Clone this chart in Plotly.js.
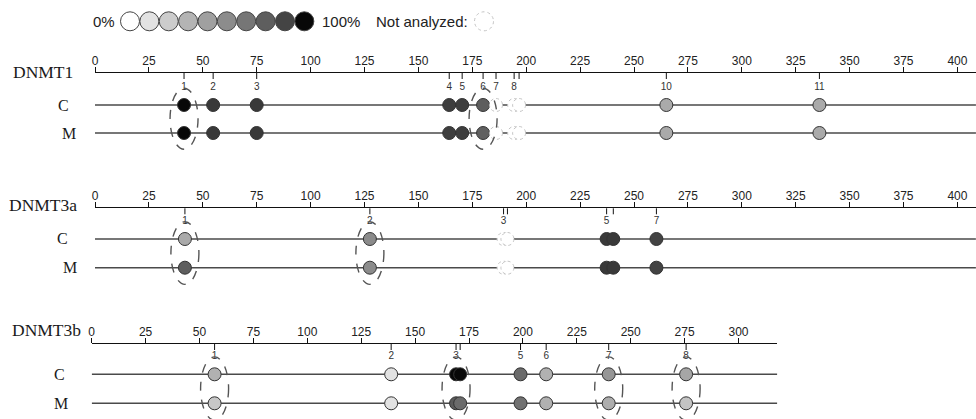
<!DOCTYPE html>
<html><head><meta charset="utf-8">
<script src="https://cdn.plot.ly/plotly-3.0.1.min.js"></script>
<style>html,body{margin:0;padding:0;background:#fff}#chart{width:976px;height:419px}</style>
</head><body><div id="chart"></div>
<script>
// ---------------- DATA ----------------
const genes = ['DNMT1', 'DNMT3a', 'DNMT3b'];
const rowNames = ['C', 'M'];
const regionLength = [408.6, 408.6, 318];

const dnmt1Sites  = [41.3, 54.8, 75, 164.3, 170.3, 180, 186, 194.4, 196.7, 265, 336];
const dnmt1Labels = ['1', '2', '3', '4', '5', '6', '7', '8', '', '10', '11'];
const dnmt1C      = [100, 91, 91, 90, 90, 78, null, null, null, 39, 39];
const dnmt1M      = [100, 91, 91, 90, 90, 77, null, null, null, 39, 39];
const dnmt1Circled = ['1', '6'];

const dnmt3aSites  = [41.7, 127.5, 189.5, 191.3, 237.3, 240.4, 260.4];
const dnmt3aLabels = ['1', '2', '3', '', '5', '', '7'];
const dnmt3aC      = [39, 56, null, null, 91, 91, 89];
const dnmt3aM      = [78, 56, null, null, 91, 91, 89];
const dnmt3aCircled = ['1', '2'];

const dnmt3bSites  = [57, 138.9, 169, 170.9, 198.9, 210.8, 239.8, 275.7];
const dnmt3bLabels = ['1', '2', '3', '', '5', '6', '7', '8'];
const dnmt3bC      = [35, 11, 100, 100, 72, 35, 50, 41];
const dnmt3bM      = [24, 11, 79, 72, 69, 35, 37, 26];
const dnmt3bCircled = ['1', '3', '7', '8'];

const legendLevels = [0, 11.1, 22.2, 33.3, 44.4, 55.6, 66.7, 77.8, 88.9, 100];
const legendLabels = ['0%', '100%', 'Not analyzed:'];

// ---------------- STYLE / LAYOUT ----------------
const W = 976, H = 419;
const PXU = 2.156; // pixels per unit on x
const grayScale = [
  [0, '#ffffff'], [0.111, '#e2e2e2'], [0.222, '#cccccc'], [0.333, '#b4b4b4'],
  [0.444, '#a0a0a0'], [0.556, '#8c8c8c'], [0.667, '#767676'], [0.778, '#5e5e5e'],
  [0.889, '#444444'], [1, '#080808']
];
const panels = [
  {sites: dnmt1Sites, labels: dnmt1Labels, C: dnmt1C, M: dnmt1M, circled: dnmt1Circled,
   xL: 95, top: 73, bot: 156, yC: 105, yM: 133, gx: 42.5, gy: 72, cx: 63, mx: 69},
  {sites: dnmt3aSites, labels: dnmt3aLabels, C: dnmt3aC, M: dnmt3aM, circled: dnmt3aCircled,
   xL: 95, top: 208.3, bot: 290, yC: 239, yM: 267.7, gx: 42.7, gy: 205, cx: 62.5, mx: 69.5},
  {sites: dnmt3bSites, labels: dnmt3bLabels, C: dnmt3bC, M: dnmt3bM, circled: dnmt3bCircled,
   xL: 91.7, top: 344, bot: 419, yC: 374.3, yM: 403.3, gx: 46, gy: 330, cx: 59, mx: 60.5}
];

const traces = [], shapes = [], annotations = [];
const layout = {
  width: W, height: H, margin: {l: 0, r: 0, t: 0, b: 0},
  paper_bgcolor: '#fff', plot_bgcolor: 'rgba(0,0,0,0)', showlegend: false,
  font: {family: 'Arial, Liberation Sans, sans-serif', color: '#222'}
};
const serif = {family: 'Liberation Serif, Times New Roman, serif', size: 16, color: '#1a1a1a'};
const serifBig = {family: 'Liberation Serif, Times New Roman, serif', size: 17.5, color: '#1a1a1a'};

panels.forEach((p, i) => {
  const n = i === 0 ? '' : String(i + 1);
  const xa = 'x' + n, ya = 'y' + n;
  const len = regionLength[i];
  const rowPx = p.yM - p.yC;
  const topVal = -(p.yC - p.top) / rowPx;
  const botVal = 1 + (p.bot - p.yM) / rowPx;
  const domPx = p.bot - p.top;
  layout['xaxis' + n] = {
    domain: [p.xL / W, Math.min(1, (p.xL + len * PXU) / W)],
    range: [0, len], anchor: ya, side: 'top',
    showline: true, linecolor: '#111', linewidth: 1.3,
    ticks: 'outside', ticklen: 5, tickwidth: 1, tickcolor: '#111',
    tick0: 0, dtick: 25, ticklabelstandoff: -3,
    tickfont: {family: 'Arial, Liberation Sans, sans-serif', size: 12, color: '#222'},
    showgrid: false, zeroline: false, fixedrange: true
  };
  layout['yaxis' + n] = {
    domain: [1 - p.bot / H, 1 - p.top / H], range: [botVal, topVal], anchor: xa,
    showticklabels: false, showgrid: false, zeroline: false, showline: false, ticks: '',
    fixedrange: true
  };
  // row lines
  traces.push({
    type: 'scatter', mode: 'lines', xaxis: xa, yaxis: ya, hoverinfo: 'skip',
    x: [0, len, null, 0, len], y: [0, 0, null, 1, 1],
    line: {color: '#4a4a4a', width: 1.4}
  });
  // site labels
  traces.push({
    type: 'scatter', mode: 'text', xaxis: xa, yaxis: ya, hoverinfo: 'skip',
    x: p.sites, y: p.sites.map(() => -0.62), text: p.labels,
    textfont: {family: 'Arial, Liberation Sans, sans-serif', size: 10, color: '#333'}
  });
  // dots
  const dx = [], dy = [], dc = [];
  [p.C, p.M].forEach((vals, r) => {
    vals.forEach((v, k) => {
      if (v === null) {
        shapes.push({
          type: 'circle', xref: xa, yref: ya, xsizemode: 'pixel', ysizemode: 'pixel',
          xanchor: p.sites[k], yanchor: r, x0: -6.5, x1: 6.5, y0: -6.5, y1: 6.5,
          fillcolor: '#ffffff', line: {color: '#c4c4c4', width: 1, dash: 'dot'}, layer: 'above'
        });
      } else {
        dx.push(p.sites[k]); dy.push(r); dc.push(v);
      }
    });
  });
  traces.push({
    type: 'scatter', mode: 'markers', xaxis: xa, yaxis: ya, hoverinfo: 'skip',
    x: dx, y: dy,
    marker: {size: 13, color: dc, colorscale: grayScale, cmin: 0, cmax: 100,
             line: {color: '#333', width: 1}}
  });
  // site ticks below axis
  p.sites.forEach(s => {
    shapes.push({
      type: 'line', xref: xa, yref: ya + ' domain', x0: s, x1: s, y0: 1, y1: 1 - 6 / domPx,
      line: {color: '#111', width: 1}
    });
  });
  // dashed ellipses for circled sites
  p.circled.forEach(lbl => {
    const k = p.labels.indexOf(lbl);
    shapes.push({
      type: 'circle', xref: xa, yref: ya, xsizemode: 'pixel', xanchor: p.sites[k],
      x0: -14, x1: 14, y0: -0.6, y1: 1.58,
      line: {color: '#555', width: 1.4, dash: 'dash'}, layer: 'above'
    });
  });
  // gene + row labels
  annotations.push({xref: 'paper', yref: 'paper', x: p.gx / W, y: 1 - p.gy / H,
    text: genes[i], showarrow: false, font: serifBig, xanchor: 'center', yanchor: 'middle'});
  annotations.push({xref: 'paper', yref: 'paper', x: p.cx / W, y: 1 - p.yC / H,
    text: rowNames[0], showarrow: false, font: serif, xanchor: 'center', yanchor: 'middle'});
  annotations.push({xref: 'paper', yref: 'paper', x: p.mx / W, y: 1 - p.yM / H,
    text: rowNames[1], showarrow: false, font: serif, xanchor: 'center', yanchor: 'middle'});
});

// ---------------- LEGEND ----------------
const legX0 = 130, legStep = 19.37, legCy = 21.3;
layout.xaxis4 = {domain: [0, 1], range: [(0 - legX0) / legStep, (W - legX0) / legStep],
  anchor: 'y4', visible: false, fixedrange: true};
layout.yaxis4 = {domain: [1 - 2 * legCy / H, 1], range: [-1, 1], anchor: 'x4',
  visible: false, fixedrange: true};
traces.push({
  type: 'scatter', mode: 'markers', xaxis: 'x4', yaxis: 'y4', hoverinfo: 'skip',
  x: legendLevels.map((v, i) => i), y: legendLevels.map(() => 0),
  marker: {size: 19, color: legendLevels, colorscale: grayScale, cmin: 0, cmax: 100,
           line: {color: '#444', width: 1}}
});
const legFont = {family: 'Arial, Liberation Sans, sans-serif', size: 15, color: '#222'};
annotations.push({xref: 'paper', yref: 'paper', x: 103.5 / W, y: 1 - legCy / H, text: legendLabels[0],
  showarrow: false, font: legFont, xanchor: 'center', yanchor: 'middle'});
annotations.push({xref: 'paper', yref: 'paper', x: 320 / W, y: 1 - legCy / H, text: legendLabels[1],
  showarrow: false, font: legFont, xanchor: 'left', yanchor: 'middle'});
annotations.push({xref: 'paper', yref: 'paper', x: 374 / W, y: 1 - legCy / H, text: legendLabels[2],
  showarrow: false, font: legFont, xanchor: 'left', yanchor: 'middle'});
shapes.push({
  type: 'circle', xref: 'x4', yref: 'y4', xsizemode: 'pixel', ysizemode: 'pixel',
  xanchor: (484 - legX0) / legStep, yanchor: 0, x0: -9.5, x1: 9.5, y0: -9.5, y1: 9.5,
  fillcolor: '#ffffff', line: {color: '#c4c4c4', width: 1, dash: 'dot'}
});

layout.shapes = shapes;
layout.annotations = annotations;
Plotly.newPlot('chart', traces, layout, {staticPlot: true, displayModeBar: false});
</script>
</body></html>
